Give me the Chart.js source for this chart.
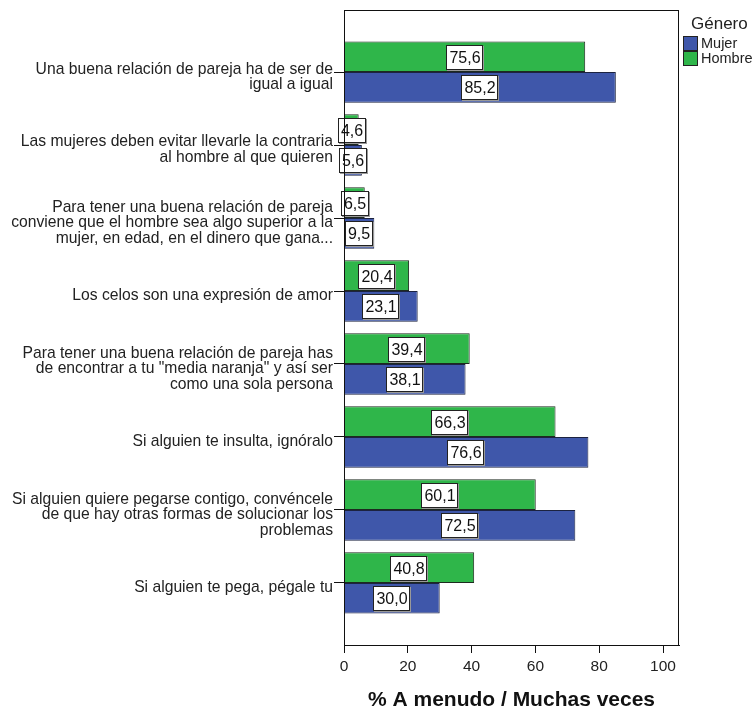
<!DOCTYPE html>
<html>
<head>
<meta charset="utf-8">
<script src="https://cdn.jsdelivr.net/npm/chart.js@4/dist/chart.umd.min.js"></script>
<style>
    body { margin: 0; background: #fff; }
    #wrap { position: relative; width: 755px; height: 711px; }
    #legend { position: absolute; left: 683px; top: 12px; font-family: "Liberation Sans", Arial, sans-serif; color: #222; }
    #legend .title { font-size: 17px; margin-left: 8px; padding-top: 2px; margin-bottom: 2px; line-height: 20px; }
    #legend .item { font-size: 14.5px; height: 15px; line-height: 15px; display: flex; align-items: center; }
    #legend .box { width: 13px; height: 13px; border: 1px solid #222; margin-right: 3px; }
</style>
</head>
<body>
<div id="wrap">
    <canvas id="chart" width="755" height="711"></canvas>
    <div id="legend"></div>
</div>
<script>
const categories = [
    ['Una buena relación de pareja ha de ser de', 'igual a igual'],
    ['Las mujeres deben evitar llevarle la contraria', 'al hombre al que quieren'],
    ['Para tener una buena relación de pareja', 'conviene que el hombre sea algo superior a la', 'mujer, en edad, en el dinero que gana...'],
    ['Los celos son una expresión de amor'],
    ['Para tener una buena relación de pareja has', 'de encontrar a tu "media naranja" y así ser', 'como una sola persona'],
    ['Si alguien te insulta, ignóralo'],
    ['Si alguien quiere pegarse contigo, convéncele', 'de que hay otras formas de solucionar los', 'problemas'],
    ['Si alguien te pega, pégale tu']
];
const hombre = [75.6, 4.6, 6.5, 20.4, 39.4, 66.3, 60.1, 40.8];
const mujer = [85.2, 5.6, 9.5, 23.1, 38.1, 76.6, 72.5, 30.0];
const xTicks = [0, 20, 40, 60, 80, 100];

const fontFamily = '"Liberation Sans", Arial, sans-serif';
const green = '#2fb64a';
const blue = '#3f57aa';

// legend (Mujer first like the original)
const legendItems = [{ label: 'Mujer', color: blue }, { label: 'Hombre', color: green }];
const legend = document.getElementById('legend');
legend.innerHTML = '<div class="title">Género</div>' + legendItems.map(item =>
    '<div class="item"><span class="box" style="background:' + item.color + '"></span>' + item.label + '</div>'
).join('');

const frame = {
    id: 'frame',
    afterDraw(chart) {
        const { ctx, chartArea } = chart;
        ctx.save();
        ctx.strokeStyle = '#111';
        ctx.lineWidth = 1;
        ctx.strokeRect(chartArea.left + 0.5, chartArea.top + 0.5, chartArea.right - chartArea.left - 1, chartArea.bottom - chartArea.top);
        ctx.restore();
    }
};

const valueBoxes = {
    id: 'valueBoxes',
    afterDatasetsDraw(chart) {
        const ctx = chart.ctx;
        ctx.save();
        ctx.font = '16px ' + fontFamily;
        ctx.textAlign = 'center';
        ctx.textBaseline = 'middle';
        chart.data.datasets.forEach((ds, i) => {
            chart.getDatasetMeta(i).data.forEach((bar, j) => {
                const text = ds.data[j].toFixed(1).replace('.', ',');
                const cx = Math.round((bar.x + bar.base) / 2);
                const cy = Math.round(bar.y + 1);
                const w = Math.round(ctx.measureText(text).width + 6);
                const h = 25;
                const x0 = cx - Math.round(w / 2), y0 = cy - Math.round(h / 2);
                ctx.fillStyle = '#999';
                ctx.fillRect(x0 + 1, y0 + 1, w, h);
                ctx.fillStyle = '#fff';
                ctx.fillRect(x0, y0, w, h);
                ctx.strokeStyle = '#222';
                ctx.lineWidth = 1;
                ctx.strokeRect(x0 + 0.5, y0 + 0.5, w - 1, h - 1);
                ctx.fillStyle = '#111';
                ctx.fillText(text, cx, cy + 1);
            });
        });
        ctx.restore();
    }
};

new Chart(document.getElementById('chart'), {
    type: 'bar',
    data: {
        labels: categories,
        datasets: [
            { label: 'Hombre', data: hombre, backgroundColor: green, borderColor: '#1d2a1f', borderWidth: 1 },
            { label: 'Mujer', data: mujer, backgroundColor: blue, borderColor: '#1c2340', borderWidth: 1 }
        ]
    },
    options: {
        indexAxis: 'y',
        responsive: false,
        animation: false,
        layout: { padding: { top: 10, right: 76, bottom: 0, left: 0 } },
        datasets: { bar: { categoryPercentage: 0.84, barPercentage: 1 } },
        scales: {
            y: {
                afterFit: scale => { scale.width = 344; },
                afterBuildTicks: scale => {
                    // extra empty space above the first and below the last group
                    scale._startValue = -0.85;
                    scale._valueRange = categories.length + 0.7;
                },
                grid: { display: true, drawOnChartArea: false, drawTicks: true, tickLength: 10, color: '#111', offset: false },
                border: { display: true, color: '#111' },
                ticks: {
                    color: '#222',
                    padding: 1,
                    labelOffset: 5,
                    autoSkip: false,
                    font: { family: fontFamily, size: 15.7, lineHeight: 1.0 }
                }
            },
            x: {
                min: 0,
                max: 105,
                afterFit: scale => { scale.height = 66; },
                afterBuildTicks: scale => { scale.ticks = xTicks.map(v => ({ value: v })); },
                grid: { display: true, drawOnChartArea: false, drawTicks: true, tickLength: 8, color: '#111' },
                border: { display: true, color: '#111' },
                ticks: {
                    color: '#222',
                    padding: 4,
                    font: { family: fontFamily, size: 15.5 }
                },
                title: {
                    display: true,
                    text: '% A menudo / Muchas veces',
                    color: '#111',
                    padding: { top: 0, bottom: 0 },
                    font: { family: fontFamily, size: 21, weight: 'bold', lineHeight: 1.0 }
                }
            }
        },
        plugins: {
            legend: { display: false },
            tooltip: { enabled: false }
        }
    },
    plugins: [frame, valueBoxes]
});
</script>
</body>
</html>
